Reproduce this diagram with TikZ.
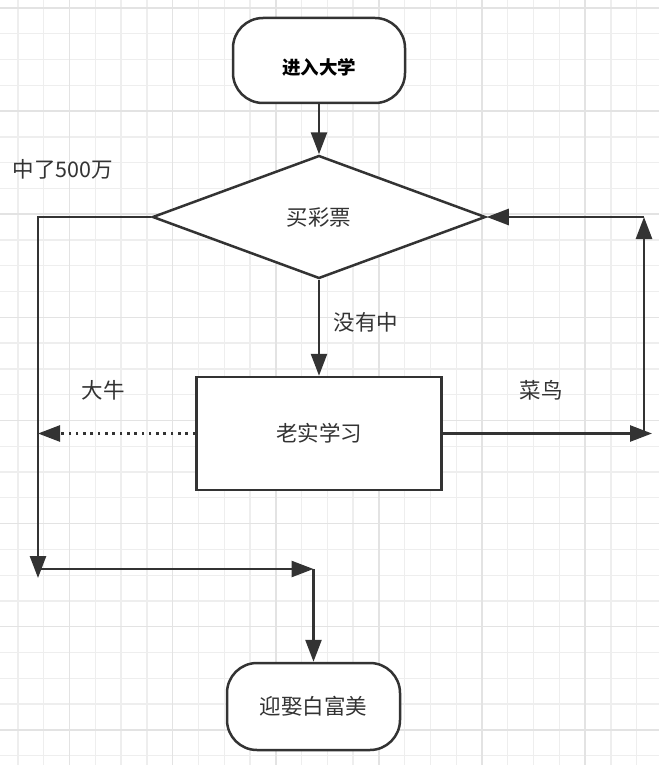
\documentclass[tikz,border=0pt]{standalone}
\usepackage{fontspec}
\setmainfont{Noto Sans CJK SC}
\usetikzlibrary{arrows.meta,shapes.geometric}
\definecolor{gridminor}{HTML}{EEEEEE}
\definecolor{gridmajor}{HTML}{E3E3E3}
\definecolor{ink}{HTML}{333333}
\begin{document}
\begin{tikzpicture}[x=1pt,y=-1pt,
  txt/.style={text=ink,font=\fontsize{21.5}{24}\selectfont},
  shapeline/.style={draw=ink,line width=2.5pt,fill=white},
  term/.style={shapeline,txt,rectangle,rounded corners=30pt,inner sep=0pt},
  dia/.style={shapeline,txt,diamond,inner sep=0pt,minimum width=333pt,minimum height=123pt},
  box/.style={shapeline,txt,rectangle,inner sep=0pt,minimum width=245pt,minimum height=113pt},
  lbl/.style={txt,inner sep=0pt},
  arr/.style={draw=ink,line width=2.6pt,-{Triangle[length=22pt,width=16pt]}},
  dots/.style={dash pattern=on 2.6pt off 4.7pt}
]
\useasboundingbox (0,0) rectangle (659,765);
\fill[white] (0,0) rectangle (659,765);
\foreach \k in {0,...,24} {
  \pgfmathsetmacro\xx{18+25.78*\k}
  \draw[gridminor,line width=1.3pt] (\xx,0) -- (\xx,765);
}
\foreach \k in {0,...,29} {
  \pgfmathsetmacro\yy{8+25.78*\k}
  \draw[gridminor,line width=1.3pt] (0,\yy) -- (659,\yy);
}
\foreach \k in {2,6,...,22} {
  \pgfmathsetmacro\xx{18+25.78*\k}
  \draw[gridmajor,line width=1.5pt] (\xx,0) -- (\xx,765);
}
\foreach \k in {0,4,...,28} {
  \pgfmathsetmacro\yy{8+25.78*\k}
  \draw[gridmajor,line width=1.5pt] (0,\yy) -- (659,\yy);
}

\node[term,minimum width=172pt,minimum height=85pt,
  label={[text=black,inner sep=0pt,yshift=-6.5pt,font=\fontsize{18.5}{20}\selectfont\bfseries]center:进入大学}] (start) at (319,60.5) {};
\node[dia] (lot) at (319,217) {买彩票};
\node[box] (study) at (319,433.5) {老实学习};
\node[term,minimum width=173pt,minimum height=87pt] (end) at (313.5,706.5) {迎娶白富美};

\coordinate (c) at (38,217);
\coordinate (d) at (38,578);
\coordinate (e0) at (38,569);
\coordinate (e) at (313.5,569);
\coordinate (f) at (38,433.5);
\coordinate (g) at (652,433.5);
\coordinate (g0) at (644,433.5);
\coordinate (h) at (644,217);

\draw[arr] (start.south) -- (lot.north);
\draw[arr] (lot.south) -- (study.north);
\draw[arr] (lot.west) -- (c) -- (d);
\draw[arr] (e0) -- (e);
\draw[arr] (e) -- (end.north);
\draw[arr,dots] (study.west) -- (f);
\draw[arr] (study.east) -- (g);
\draw[arr] (g0) -- (h);
\draw[arr] (h) -- (lot.east);

\node[lbl] (l500) at (63,169) {中了500万};
\node[lbl] (lno) at (366,322) {没有中};
\node[lbl] (lniu) at (103,390) {大牛};
\node[lbl] (lcai) at (541,390) {菜鸟};
\end{tikzpicture}
\end{document}
